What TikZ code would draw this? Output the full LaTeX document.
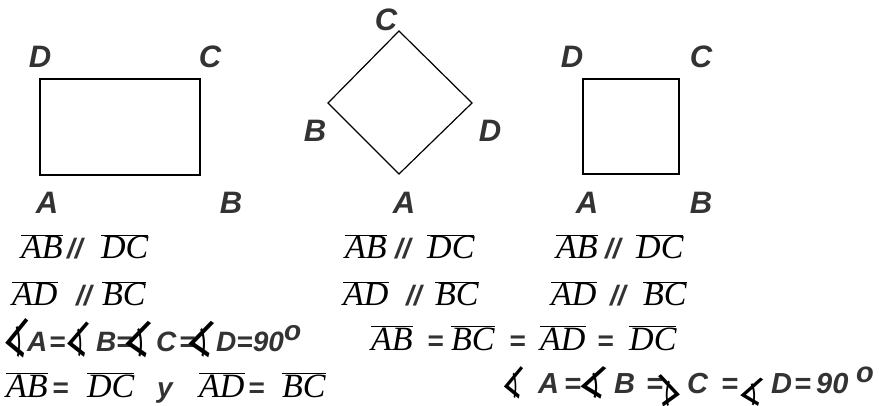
\documentclass[tikz,border=0pt]{standalone}
\usepackage{fontspec}
\usepackage{graphicx}
\usetikzlibrary{positioning}
\newfontfamily\labfont{Liberation Sans}
\newfontfamily\segfont{Liberation Serif}
\newfontfamily\angfont{DejaVu Sans}
\definecolor{labgray}{HTML}{333333}
\newcommand{\sgm}[1]{$\overline{\mbox{\segfont\itshape #1}}$}
\newcommand{\ang}[2]{\scalebox{#1}[#2]{\rotatebox{-24}{\angfont\fontsize{24}{24}\selectfont\char"2221}}}

\begin{document}
\begin{tikzpicture}[x=1pt,y=-1pt,
  fig/.style={line width=1.2pt,line join=miter},
  vlab/.style={inner sep=0,text=labgray,font={\labfont\bfseries\itshape\fontsize{31}{31}\selectfont}},
  seg/.style={inner sep=0,anchor=base west,font={\fontsize{34}{34}\selectfont}},
  eq/.style={inner sep=0,anchor=base west,text=labgray,font={\labfont\bfseries\itshape\fontsize{28}{28}\selectfont}},
  eqbig/.style={eq,font={\labfont\bfseries\itshape\fontsize{29}{29}\selectfont}},
  angs/.style={inner sep=0,anchor=center}
]
\useasboundingbox (0,0) rectangle (879,406);
% rectangle ABCD
\coordinate (rA) at (40,175);
\coordinate (rB) at (200,175);
\coordinate (rC) at (200,79);
\coordinate (rD) at (40,79);
\draw[fig] (rA) -- (rB) -- (rC) -- (rD) -- cycle;
\node[vlab] (rlD) at (40,57) {D};
\node[vlab] (rlC) at (210,57) {C};
\node[vlab] (rlA) at (47,203) {A};
\node[vlab] (rlB) at (231,203) {B};
% rhombus
\coordinate (dA) at (399,174);
\coordinate (dB) at (328,103);
\coordinate (dC) at (399,31);
\coordinate (dD) at (472,103);
\draw[fig] (dA) -- (dD) -- (dC) -- (dB) -- cycle;
\node[vlab] (dlC) at (386,20) {C};
\node[vlab] (dlB) at (315,131) {B};
\node[vlab] (dlD) at (490,131) {D};
\node[vlab] (dlA) at (404,203) {A};
% square
\coordinate (sA) at (583,174);
\coordinate (sB) at (679,174);
\coordinate (sC) at (679,79);
\coordinate (sD) at (583,79);
\draw[fig] (sA) -- (sB) -- (sC) -- (sD) -- cycle;
\node[vlab] (slD) at (572,57) {D};
\node[vlab] (slC) at (701,57) {C};
\node[vlab] (slA) at (587,203) {A};
\node[vlab] (slB) at (701,203) {B};
% rectangle properties
\node[seg] (r1a) at (21,259) {\sgm{AB}};
\node[eq] (r1p) at (67,259) {//};
\node[seg] (r1b) at (101,259) {\sgm{DC}};
\node[seg] (r2a) at (12,306) {\sgm{AD}};
\node[eq] (r2p) at (76,306) {//};
\node[seg] (r2b) at (102,306) {\sgm{BC}};
\node[angs] (r3k1) at (19,335) {\ang{1.16}{2.17}};
\node[eq] (r3a) at (27,352) {A};
\node[eq] (r3e1) at (49,352) {=};
\node[angs] (r3k2) at (79.5,337) {\ang{1.1}{1.94}};
\node[eq] (r3b) at (96,352) {B};
\node[eq] (r3e2) at (116,352) {=};
\node[angs] (r3k3) at (140.5,336) {\ang{1.29}{2}};
\node[eq] (r3c) at (156,352) {C};
\node[eq] (r3e3) at (179,352) {=};
\node[angs] (r3k4) at (203.5,336) {\ang{1.29}{2}};
\node[eq] (r3d) at (216,352) {D=90};
\node[eq] (r3o) at (284,341) {o};
\node[seg] (r4a) at (6,397) {\sgm{AB}};
\node[eq] (r4e1) at (52,397) {=};
\node[seg] (r4b) at (87,397) {\sgm{DC}};
\node[eq] (r4y) at (157,397) {y};
\node[seg] (r4c) at (199,397) {\sgm{AD}};
\node[eq] (r4e2) at (248,397) {=};
\node[seg] (r4d) at (282,397) {\sgm{BC}};
% rhombus properties
\node[seg] (d1a) at (345,259) {\sgm{AB}};
\node[eq] (d1p) at (395,259) {//};
\node[seg] (d1b) at (427,259) {\sgm{DC}};
\node[seg] (d2a) at (343,306) {\sgm{AD}};
\node[eq] (d2p) at (406,306) {//};
\node[seg] (d2b) at (435,306) {\sgm{BC}};
\node[seg] (d3a) at (371,350) {\sgm{AB}};
\node[eq] (d3e1) at (427,350) {=};
\node[seg] (d3b) at (451,350) {\sgm{BC}};
\node[eq] (d3e2) at (509,350) {=};
\node[seg] (d3c) at (540,350) {\sgm{AD}};
\node[eq] (d3e3) at (597,350) {=};
\node[seg] (d3d) at (629,350) {\sgm{DC}};
% square properties
\node[seg] (s1a) at (556,259) {\sgm{AB}};
\node[eq] (s1p) at (605,259) {//};
\node[seg] (s1b) at (636,259) {\sgm{DC}};
\node[seg] (s2a) at (551,306) {\sgm{AD}};
\node[eq] (s2p) at (610,306) {//};
\node[seg] (s2b) at (643,306) {\sgm{BC}};
\node[angs] (s4k1) at (515,380) {\ang{0.97}{1.78}};
\node[eqbig] (s4a) at (538,393) {A};
\node[eqbig] (s4e1) at (564,393) {=};
\node[angs] (s4k2) at (595.5,380) {\ang{1.3}{1.78}};
\node[eqbig] (s4b) at (614,393) {B};
\node[eqbig] (s4e2) at (646,393) {=};
\node[angs] (s4k3) at (668.5,388) {\reflectbox{\ang{1.1}{1.78}}};
\node[eqbig] (s4c) at (687,393) {C};
\node[eqbig] (s4e3) at (721,393) {=};
\node[angs] (s4k4) at (754,390) {\ang{1.16}{1.55}};
\node[eqbig] (s4d) at (771,393) {D};
\node[eqbig] (s4e4) at (794,393) {=};
\node[eqbig] (s4n) at (816,393) {90};
\node[eqbig] (s4o) at (856,382) {o};
\end{tikzpicture}
\end{document}
